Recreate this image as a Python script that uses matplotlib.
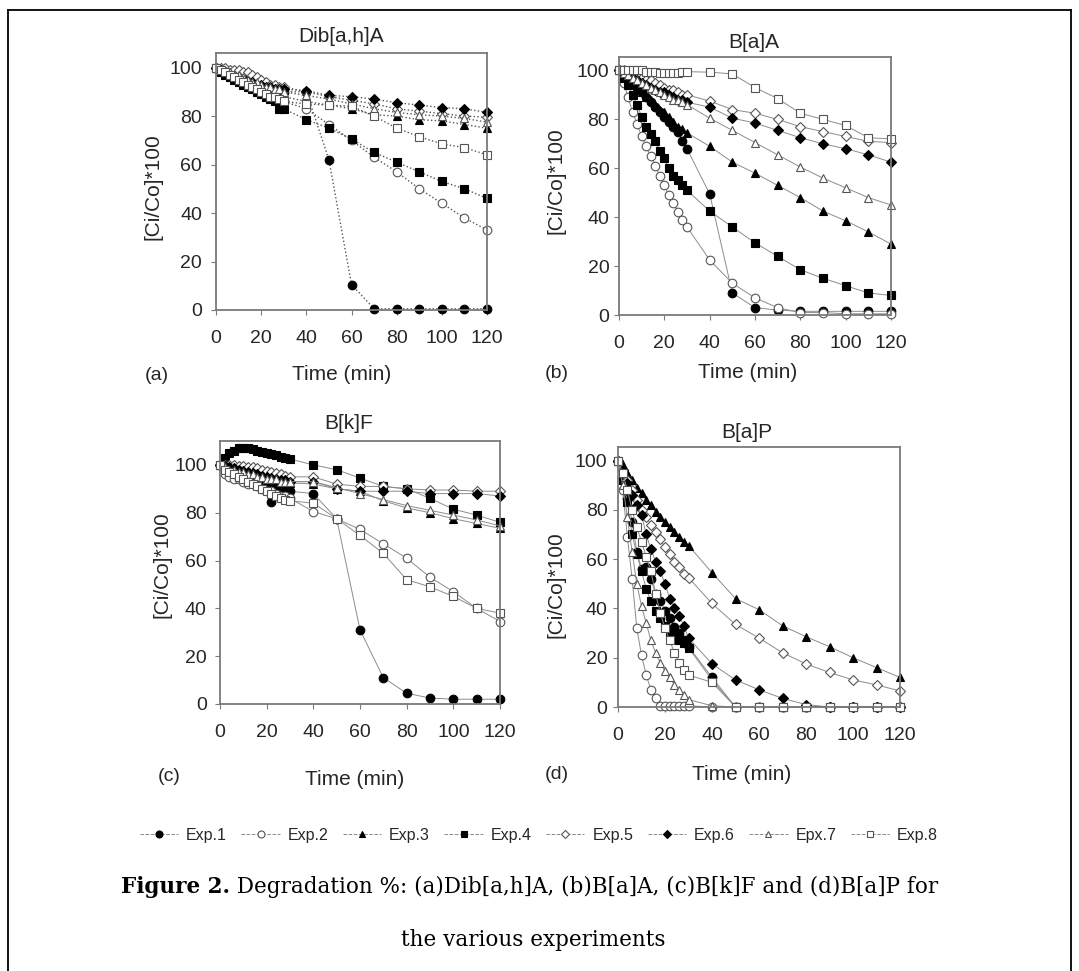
import matplotlib
matplotlib.use("Agg")
import matplotlib.pyplot as plt
from matplotlib.lines import Line2D

# sampling times (min): every 2 min up to 30, then every 10 min
time_early = [0, 2, 4, 6, 8, 10, 12, 14, 16, 18, 20, 22, 24, 26, 28, 30]
time_late = [40, 50, 60, 70, 80, 90, 100, 110, 120]
times = time_early + time_late

exp_labels = ["Exp.1", "Exp.2", "Exp.3", "Exp.4", "Exp.5", "Exp.6", "Epx.7", "Exp.8"]
panel_titles = ["Dib[a,h]A", "B[a]A", "B[k]F", "B[a]P"]
panel_tags = ["(a)", "(b)", "(c)", "(d)"]
x_ticks = [0, 20, 40, 60, 80, 100, 120]
y_ticks = [0, 20, 40, 60, 80, 100]

# (a) Dib[a,h]A, [Ci/Co]*100 per experiment
dib_exp1 = [100, 99, 98, 97, 97, 96, 95, 95, 94, 93, 93, 92, 92, 91, 91, 90, 90, 62, 10.5, 0.5, 0.5, 0.5, 0.5, 0.5, 0.5]
dib_exp2 = [100, 99, 98, 97, 96, 95, 94, 93, 92, 91, 90, 89, 88, 88, 87, 86, 83, 76.5, 70, 63, 57, 50, 44, 38, 33]
dib_exp3 = [100, 99, 98, 97, 96, 96, 95, 94, 93, 92, 91, 91, 90, 89, 88, 88, 86, 84.5, 83, 80.5, 80, 78.5, 78, 76.5, 75]
dib_exp4 = [100, 98, 97, 96, 95, 94, 93, 92, 91, 90, 89, 88, 87, 86, 83, 83, 78.5, 75, 70.5, 65, 61, 57, 53, 50, 46]
dib_exp5 = [100, 100, 100, 99, 99, 99, 98, 98, 97, 96, 95, 94, 93, 93, 92, 92, 90, 88, 86.5, 85, 83, 82, 81, 80, 79.5]
dib_exp6 = [100, 99, 98, 97, 96, 96, 95, 94, 94, 93, 93, 92, 92, 91, 91, 91, 90.5, 88.5, 88, 87, 85.5, 84.5, 83.5, 83, 81.5]
dib_exp7 = [100, 99, 99, 98, 97, 97, 96, 95, 94, 94, 93, 92, 92, 91, 91, 90, 88.5, 87, 85, 83, 81.5, 80.5, 80, 79, 77.5]
dib_exp8 = [100, 99, 98, 97, 96, 95, 94, 93, 92, 91, 90, 89, 88, 88, 87, 86, 85, 84.5, 84, 80, 75, 71.5, 68.5, 67, 64]

# (b) B[a]A
baa_exp1 = [100, 99, 97, 95, 93, 91, 89, 87, 85, 83, 81, 79, 77, 75, 71, 68, 49.5, 9, 3, 2, 1.5, 1.5, 1.5, 1.5, 1.5]
baa_exp2 = [100, 95, 89, 83, 78, 73, 69, 65, 61, 57, 53, 49, 46, 42, 39, 36, 22.5, 13, 7, 3, 1, 1, 0.5, 0.5, 0.5]
baa_exp3 = [100, 98, 96, 95, 93, 91, 89, 88, 86, 84, 83, 81, 79, 77, 76, 74.5, 69, 62.5, 58, 53, 48, 42.5, 38.5, 34, 29]
baa_exp4 = [100, 97, 94, 90, 86, 81, 77, 74, 71, 67, 64, 60, 57, 55, 53, 51, 42.5, 36, 29.5, 24, 18.5, 15, 12, 9, 8]
baa_exp5 = [100, 100, 99, 99, 98, 97, 96, 96, 95, 94, 93, 92, 92, 91, 90, 90, 87.5, 84, 82.5, 80, 77, 75, 73, 71, 70.5]
baa_exp6 = [100, 99, 98, 97, 96, 95, 94, 93, 92, 91, 91, 90, 89, 88, 88, 87, 85, 80.5, 78.5, 75.5, 72.5, 70, 68, 65.5, 62.5]
baa_exp7 = [100, 99, 98, 97, 96, 95, 94, 93, 92, 91, 90, 89, 88, 88, 87, 86, 80.5, 75.5, 70.5, 65.5, 60.5, 56, 52, 48, 45]
baa_exp8 = [100, 100, 100, 100, 100, 100, 99.5, 99.5, 99.5, 99, 99, 99, 99, 99, 99.5, 99.5, 99.3, 98.6, 93, 88.5, 82.5, 80, 77.5, 72.5, 72]

# (c) B[k]F
bkf_exp1 = [100, 99, 98, 97, 96, 95, 94, 93, 93, 92, 91, 84.5, 91, 90, 90, 89, 88, 77.5, 31, 11, 4.5, 2.5, 2, 2, 2]
bkf_exp2 = [100, 96, 95, 94, 94, 93, 92, 92, 91, 90, 89, 89, 88, 87, 87, 86, 80.5, 77.5, 73, 67, 61, 53, 47, 40, 34.5]
bkf_exp3 = [100, 99.5, 99, 98.5, 98, 97.5, 97, 96.5, 96, 95.5, 95, 94.5, 94, 93.5, 93, 92.5, 92, 90, 89, 85, 82, 80, 77.5, 75.5, 73.5]
bkf_exp4 = [100, 103, 105, 106, 107, 107, 107, 106.5, 106, 105.5, 105, 104.5, 104, 103.5, 103, 102.5, 100, 98, 94.5, 91, 90, 86, 81.5, 79, 76]
bkf_exp5 = [100, 100, 100, 100, 99.5, 99.5, 99, 99, 98.5, 98, 97.5, 97, 96.5, 96, 95.5, 95, 95, 92, 91, 91, 90, 89.5, 89.5, 89, 89]
bkf_exp6 = [100, 99.5, 99, 98.5, 98, 97.5, 97, 96.5, 96, 95.5, 95, 94.5, 94, 93.5, 93.5, 93, 93, 90, 89, 89, 89, 88, 88, 88, 87]
bkf_exp7 = [100, 99, 98, 98, 97, 97, 96, 96, 95, 95, 94, 94, 94, 93, 93, 93, 93, 90.5, 88, 85.5, 83, 81, 79, 77, 74.5]
bkf_exp8 = [100, 98, 97, 96, 95, 94, 93, 92, 91, 90, 89, 88, 87, 86, 85.5, 85, 84, 77.5, 70.5, 63, 52, 49, 45, 40, 38]

# (d) B[a]P
bap_exp1 = [100, 93, 85, 75, 63, 56, 57, 52, 46, 43, 39, 36, 32.5, 30, 27, 24.5, 12, 0, 0, 0, 0, 0, 0, 0, 0]
bap_exp2 = [100, 88, 69, 52, 32, 21, 13, 7, 3.5, 0.5, 0.5, 0.5, 0.5, 0.5, 0.5, 0.5, 0, 0, 0, 0, 0, 0, 0, 0, 0]
bap_exp3 = [100, 98, 95, 92, 89, 87, 84, 82, 79, 77, 75, 73, 71, 69, 67, 65.5, 54.5, 44, 39.5, 33, 28.5, 24.5, 20, 16, 12]
bap_exp4 = [100, 92, 83, 70, 62, 55, 48, 43, 39, 36, 33, 30, 28, 27, 26, 24, 11, 0, 0, 0, 0, 0, 0, 0, 0]
bap_exp5 = [100, 96, 92, 88, 84, 80, 77, 74, 71, 68, 65, 62, 59, 57, 54, 52.5, 42, 33.5, 28, 22, 17.5, 14, 11, 9, 6.5]
bap_exp6 = [100, 96, 91, 86, 82, 78, 70, 64, 59, 55, 50, 44, 40, 37, 33, 28, 17.5, 11, 7, 3.5, 1, 0, 0, 0, 0]
bap_exp7 = [100, 90, 77, 63, 50, 41, 34, 27, 22, 18, 14.5, 12, 9, 7, 5, 3, 0.5, 0, 0, 0, 0, 0, 0, 0, 0]
bap_exp8 = [100, 95, 88, 80, 73, 67, 61, 55, 46, 38, 32, 27, 22, 18, 15, 13, 10, 0, 0, 0, 0, 0, 0, 0, 0]

panel_data = [
    [dib_exp1, dib_exp2, dib_exp3, dib_exp4, dib_exp5, dib_exp6, dib_exp7, dib_exp8],
    [baa_exp1, baa_exp2, baa_exp3, baa_exp4, baa_exp5, baa_exp6, baa_exp7, baa_exp8],
    [bkf_exp1, bkf_exp2, bkf_exp3, bkf_exp4, bkf_exp5, bkf_exp6, bkf_exp7, bkf_exp8],
    [bap_exp1, bap_exp2, bap_exp3, bap_exp4, bap_exp5, bap_exp6, bap_exp7, bap_exp8],
]

# marker, filled?
exp_markers = [("o", True), ("o", False), ("^", True), ("s", True),
               ("D", False), ("D", True), ("^", False), ("s", False)]

W, H = 1079, 971
TEXT = "#262626"
plt.rcParams["font.family"] = ["Liberation Sans", "DejaVu Sans"]

fig = plt.figure(figsize=(W / 100, H / 100), dpi=100)


def fx(px):
    return px / W


def fy(py):
    return 1 - py / H


# pixel layout of each panel: left, right, top, bottom(y=0), ymax
boxes = [
    (216, 487, 53, 310, 106),
    (619, 891, 57, 315, 105.5),
    (220, 500, 441, 704, 110),
    (618, 900, 447, 707, 105.5),
]
title_pos = [(341, 37), (754, 42), (349, 423), (747, 432)]
ylabel_pos = [(153, 187), (556, 181), (162, 565), (556, 585)]
xlabel_pos = [(342, 375), (748, 373), (355, 779), (742, 774)]
tag_pos = [(157, 375), (557, 373), (169, 776), (557, 774)]
ypads = [6.5, 3.5, 6.0, 4.0]

for i, (left, right, top, bottom, ymax) in enumerate(boxes):
    ax = fig.add_axes([fx(left), fy(bottom), (right - left) / W, (bottom - top) / H])
    style = ":" if i == 0 else "-"
    lw = 1.0 if i == 0 else 0.7
    lcolor = "#555555" if i == 0 else "#8c8c8c"
    for values, (marker, filled), label in zip(panel_data[i], exp_markers, exp_labels):
        ms = 5.2 if marker == "D" else 6.2
        ax.plot(times, values, linestyle=style, linewidth=lw, color=lcolor,
                marker=marker, markersize=ms,
                markerfacecolor="black" if filled else "white",
                markeredgecolor="black" if filled else "#555555",
                markeredgewidth=0.8, label=label, clip_on=False)
    ax.set_xlim(0, 120)
    ax.set_ylim(0, ymax)
    ax.set_xticks(x_ticks)
    ax.set_yticks(y_ticks)
    for sp in ax.spines.values():
        sp.set_color("#7a7a7a")
        sp.set_linewidth(1.3)
    ax.tick_params(axis="both", direction="out", length=3.5, width=0.8,
                   color="#7a7a7a", labelsize=14, labelcolor=TEXT)
    ax.tick_params(axis="x", pad=11)
    ax.tick_params(axis="y", pad=ypads[i])

    tx, ty = title_pos[i]
    fig.text(fx(tx), fy(ty), panel_titles[i], ha="center", va="center", fontsize=15, color=TEXT)
    lx, ly = ylabel_pos[i]
    fig.text(fx(lx), fy(ly), "[Ci/Co]*100", ha="center", va="center", rotation=90,
             fontsize=15, color=TEXT)
    xx, xy = xlabel_pos[i]
    fig.text(fx(xx), fy(xy), "Time (min)", ha="center", va="center", fontsize=15, color=TEXT)
    gx, gy = tag_pos[i]
    fig.text(fx(gx), fy(gy), panel_tags[i], ha="center", va="center", fontsize=14, color=TEXT)

# shared legend
handles = []
for (marker, filled), label in zip(exp_markers, exp_labels):
    handles.append(Line2D([], [], linestyle="--", linewidth=0.7, color="#8c8c8c",
                          marker=marker, markersize=5 if marker != "D" else 4.2,
                          markerfacecolor="black" if filled else "white",
                          markeredgecolor="black" if filled else "#555555",
                          markeredgewidth=0.8))
fig.legend(handles, exp_labels, loc="center", bbox_to_anchor=(fx(539), fy(835)),
           ncol=8, frameon=False, fontsize=11.5, handlelength=2.4, handletextpad=0.5,
           columnspacing=0.9, labelcolor=TEXT)

# caption
cap_font = "DejaVu Serif"
cap_size = 15.5
t1 = fig.text(fx(121), fy(887), "Figure 2.", ha="left", va="center",
              fontsize=cap_size, fontweight="bold", family=cap_font)
renderer = fig.canvas.get_renderer()
bb = t1.get_window_extent(renderer)
fig.text(bb.x1 / W, fy(887), " Degradation %: (a)Dib[a,h]A, (b)B[a]A, (c)B[k]F and (d)B[a]P for",
         ha="left", va="center", fontsize=cap_size, family=cap_font)
fig.text(fx(533), fy(940), "the various experiments", ha="center", va="center",
         fontsize=cap_size, family=cap_font)

# page frame around the figure
for xs, ys in [((8, 8), (10, H)), ((8, 1071), (10, 10)), ((1071, 1071), (10, H))]:
    fig.add_artist(Line2D([fx(xs[0]), fx(xs[1])], [fy(ys[0]), fy(ys[1])],
                          transform=fig.transFigure, color="black", linewidth=1.3))

fig.savefig("out.png", dpi=100)
